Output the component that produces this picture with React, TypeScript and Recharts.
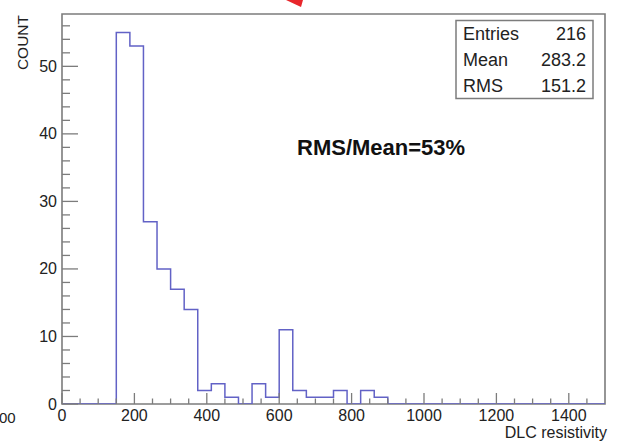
import React from 'react';
import { ComposedChart, Line, XAxis, YAxis, ReferenceArea } from 'recharts';

// Histogram of DLC resistivity: 40 bins of width 37.5 over [0, 1500]
const BIN_WIDTH = 37.5;
const X_MAX = 1500;
const binCounts = [
  0, 0, 0, 0, 55, 53, 27, 20, 17, 14,
  2, 3, 1, 0, 3, 1, 11, 2, 1, 1,
  2, 0, 2, 1, 0, 0, 0, 0, 0, 0,
  0, 0, 0, 0, 0, 0, 0, 0, 0, 0,
];

// Tick positions and labels
const xMinorTicks = Array.from({ length: 30 }, (_, i) => i * 50);
const xMajorLabels = [0, 200, 400, 600, 800, 1000, 1200, 1400];
const yMinorTicks = Array.from({ length: 29 }, (_, i) => i * 2);
const yMajorLabels = [0, 10, 20, 30, 40, 50];
const Y_MAX = 57.75;

// Statistics box contents
const statNames = ['Entries', 'Mean', 'RMS'];
const statValues = ['216', '283.2', '151.2'];
const annotation = 'RMS/Mean=53%';

const histData = [
  ...binCounts.map((count, i) => ({ x: i * BIN_WIDTH, count })),
  { x: X_MAX, count: 0 },
];

const AXIS = '#7c7c7c';
const TEXT = '#222';
const LINE = '#6262c6';
const FONT = '"Liberation Sans", Arial, Helvetica, sans-serif';

const XTick = (props: any) => {
  const { x, y, payload } = props;
  const v = payload.value as number;
  const major = xMajorLabels.includes(v);
  return (
    <g>
      <line x1={x} x2={x} y1={y} y2={y - (major ? 11 : 5.5)} stroke={AXIS} strokeWidth={1.3} />
      {major && (
        <text x={x} y={y + 16.5} textAnchor="middle" fontSize={16} fill={TEXT} fontFamily={FONT}>
          {v}
        </text>
      )}
    </g>
  );
};

const YTick = (props: any) => {
  const { x, y, payload } = props;
  const v = payload.value as number;
  const major = yMajorLabels.includes(v);
  return (
    <g>
      <line x1={x} x2={x + (major ? 16 : 8)} y1={y} y2={y} stroke={AXIS} strokeWidth={1.3} />
      {major && (
        <text x={x - 5} y={y + 5.5} textAnchor="end" fontSize={16} fill={TEXT} fontFamily={FONT}>
          {v}
        </text>
      )}
    </g>
  );
};

export default function App() {
  return (
    <div style={{ position: 'absolute', left: 0, top: 0, width: 628, height: 442, background: '#fff' }}>
      <ComposedChart
        width={628}
        height={442}
        data={histData}
        margin={{ top: 14, right: 23, bottom: 37, left: 0 }}
      >
        <XAxis
          dataKey="x"
          type="number"
          domain={[0, X_MAX]}
          ticks={xMinorTicks}
          interval={0}
          tickSize={0}
          tickMargin={0}
          height={1}
          tick={<XTick />}
          axisLine={false}
          tickLine={false}
          allowDataOverflow
        />
        <YAxis
          type="number"
          domain={[0, Y_MAX]}
          ticks={yMinorTicks}
          interval={0}
          tickSize={0}
          tickMargin={0}
          width={62}
          tick={<YTick />}
          axisLine={false}
          tickLine={false}
          allowDataOverflow
        />
        <Line
          dataKey="count"
          type="stepAfter"
          stroke={LINE}
          strokeWidth={1.5}
          dot={false}
          activeDot={false}
          isAnimationActive={false}
        />
        <ReferenceArea
          x1={0}
          x2={X_MAX}
          y1={0}
          y2={Y_MAX}
          fill="none"
          fillOpacity={0}
          stroke={AXIS}
          strokeWidth={1.6}
          ifOverflow="visible"
        />
      </ComposedChart>
      <svg
        width={628}
        height={442}
        style={{ position: 'absolute', left: 0, top: 0, pointerEvents: 'none' }}
        fontFamily={FONT}
      >
        {/* axis titles */}
        <text
          transform="translate(28,15) rotate(-90)"
          textAnchor="end"
          fontSize={15.5}
          fill={TEXT}
        >
          COUNT
        </text>
        <text x={607} y={438} textAnchor="end" fontSize={16} fill={TEXT}>
          DLC resistivity
        </text>

        {/* statistics box */}
        <rect x={456} y={20.5} width={137} height={78} fill="#fff" stroke={AXIS} strokeWidth={1.5} />
        {statNames.map((name, i) => (
          <g key={name}>
            <text x={463} y={40 + i * 26} fontSize={18} fill={TEXT}>
              {name}
            </text>
            <text x={586} y={40 + i * 26} textAnchor="end" fontSize={18} fill={TEXT}>
              {statValues[i]}
            </text>
          </g>
        ))}

        <text x={297} y={155} fontSize={22} fontWeight="bold" fill="#111">
          {annotation}
        </text>

        {/* fragments along the edges */}
        <text x={-1} y={423} fontSize={15} fill={TEXT}>
          00
        </text>
        <polygon points="286,0 303,0 301,7" fill="#e8262b" />
      </svg>
    </div>
  );
}
